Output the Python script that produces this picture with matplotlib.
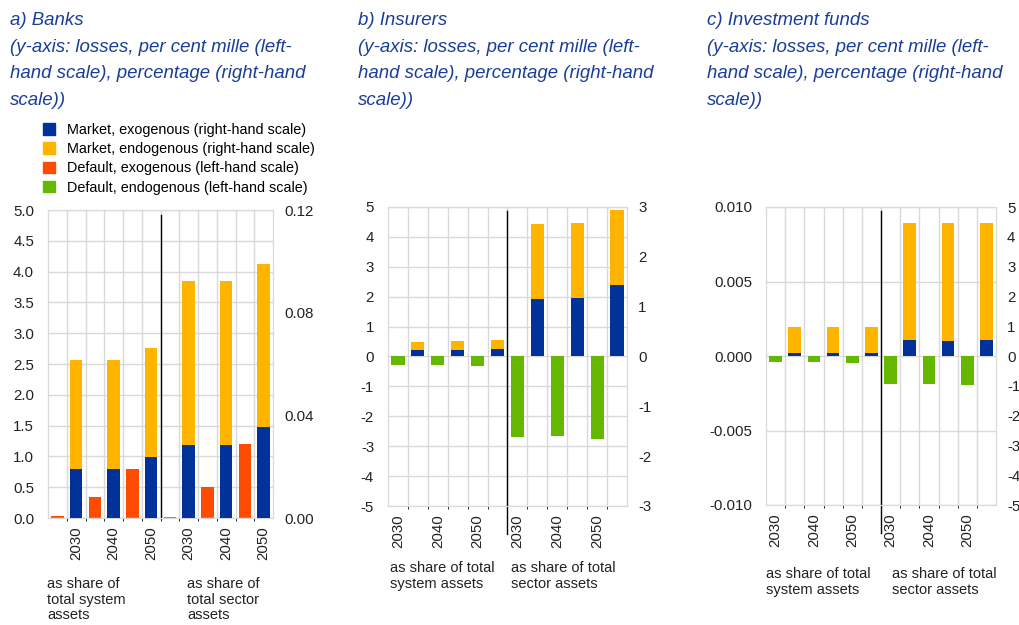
import numpy as np
import matplotlib
matplotlib.use("Agg")
import matplotlib.pyplot as plt
from matplotlib.patches import Patch
import matplotlib.transforms as mtransforms

plt.rcParams["font.family"] = ["Liberation Sans", "DejaVu Sans"]
plt.rcParams["axes.unicode_minus"] = False

# -------------------------
# Data
# -------------------------
years = ["2030", "2040", "2050", "2030", "2040", "2050"]

# market losses (right-hand scale, percentage)
banks_mkt_exo = [0.0192, 0.0192, 0.0237, 0.0286, 0.0285, 0.0355]
banks_mkt_endo = [0.0425, 0.0423, 0.0425, 0.0638, 0.0637, 0.0634]
# default losses (left-hand scale, per cent mille)
banks_def_exo = [0.02, 0.33, 0.78, 0.01, 0.50, 1.19]
banks_def_endo = [0.01, 0.01, 0.01, 0.01, 0.01, 0.01]

insurers_mkt_exo = [0.134, 0.134, 0.154, 1.152, 1.172, 1.44]
insurers_mkt_endo = [0.166, 0.181, 0.181, 1.50, 1.508, 1.50]
insurers_def_exo = [0, 0, 0, 0, 0, 0]
insurers_def_endo = [-0.30, -0.30, -0.33, -2.68, -2.66, -2.77]

funds_mkt_exo = [0.112, 0.112, 0.112, 0.549, 0.515, 0.526]
funds_mkt_endo = [0.851, 0.851, 0.851, 3.921, 3.935, 3.924]
funds_def_exo = [0, 0, 0, 0, 0, 0]
funds_def_endo = [-0.00043, -0.00043, -0.00045, -0.00188, -0.0019, -0.00197]

BLUE = "#003299"
YELLOW = "#FFB400"
ORANGE = "#FF4B00"
GREEN = "#65B800"
GRID = "#d9d9d9"
TITLE = "#1a3d9a"

W, H = 1019, 625
fig = plt.figure(figsize=(W / 100, H / 100), dpi=100)


def rect(x0, x1, ytop, ybot):
    return [x0 / W, 1 - ybot / H, (x1 - x0) / W, (ybot - ytop) / H]


def panel(r, mkt_exo, mkt_endo, def_exo, def_endo,
          lticks, llabels, rticks, rlabels, label_slot, line_ext):
    ax = fig.add_axes(r)
    ax2 = ax.twinx()
    ax.set_zorder(1)
    ax2.set_zorder(2)
    ax.patch.set_facecolor("white")
    ax2.patch.set_visible(False)

    x_def = np.arange(0, 12, 2)
    x_mkt = x_def + 1
    bw = 0.66

    endo = np.array(def_endo)
    ax.bar(x_def, endo, bw, color=GREEN, zorder=3)
    ax.bar(x_def, def_exo, bw, bottom=np.maximum(endo, 0), color=ORANGE, zorder=3)

    ax2.bar(x_mkt, mkt_exo, bw, color=BLUE, zorder=3)
    ax2.bar(x_mkt, mkt_endo, bw, bottom=mkt_exo, color=YELLOW, zorder=3)

    ax.set_xlim(-0.5, 11.5)
    ax.set_ylim(lticks[0], lticks[-1])
    ax2.set_ylim(rticks[0], rticks[-1])
    ax.set_yticks(lticks)
    ax.set_yticklabels(llabels)
    ax2.set_yticks(rticks)
    ax2.set_yticklabels(rlabels)

    ax.set_xticks(x_def + label_slot)
    ax.set_xticklabels(years, rotation=90)
    ax.set_xticks(np.arange(0.5, 11, 1), minor=True)

    ax.grid(True, axis="y", which="major", color=GRID, lw=1, zorder=0)
    ax.grid(True, axis="x", which="minor", color=GRID, lw=1, zorder=0)
    ax.grid(False, axis="x", which="major")

    for a in (ax, ax2):
        for s in a.spines.values():
            s.set_color(GRID)
        a.tick_params(length=0, labelsize=10.8, colors="#222222")
    ax.tick_params(axis="y", pad=10)
    ax2.tick_params(axis="y", pad=8)
    ax.tick_params(axis="x", pad=6)

    trans = mtransforms.blended_transform_factory(ax.transData, ax.transAxes)
    ax.plot([5.5, 5.5], [line_ext, 0.985], color="black", lw=1.0,
            transform=trans, clip_on=False, zorder=5)
    return ax


panel(rect(48, 273, 210, 518),
      banks_mkt_exo, banks_mkt_endo, banks_def_exo, banks_def_endo,
      np.arange(0, 5.01, 0.5), [f"{v:.1f}" for v in np.arange(0, 5.01, 0.5)],
      [0, 0.04, 0.08, 0.12], ["0.00", "0.04", "0.08", "0.12"], 1, 0.0)

panel(rect(388, 627, 207, 506),
      insurers_mkt_exo, insurers_mkt_endo, insurers_def_exo, insurers_def_endo,
      np.arange(-5, 6, 1), [str(v) for v in range(-5, 6)],
      np.arange(-3, 4, 1), [str(v) for v in range(-3, 4)], 0, -0.095)

panel(rect(766, 996, 207, 505),
      funds_mkt_exo, funds_mkt_endo, funds_def_exo, funds_def_endo,
      [-0.01, -0.005, 0, 0.005, 0.01], ["-0.010", "-0.005", "0.000", "0.005", "0.010"],
      np.arange(-5, 6, 1), [str(v) for v in range(-5, 6)], 0, -0.095)

# -------------------------
# Titles
# -------------------------
sub = "\n(y-axis: losses, per cent mille (left-\nhand scale), percentage (right-hand\nscale))"
for x, name in [(10, "a) Banks"), (358, "b) Insurers"), (707, "c) Investment funds")]:
    fig.text(x / W, 1 - 12 / H, name + sub, ha="left", va="top", fontsize=13.4,
             style="italic", color=TITLE, linespacing=1.75)

# -------------------------
# Legend
# -------------------------
handles = [Patch(color=BLUE), Patch(color=YELLOW), Patch(color=ORANGE), Patch(color=GREEN)]
labels = ["Market, exogenous (right-hand scale)",
          "Market, endogenous (right-hand scale)",
          "Default, exogenous (left-hand scale)",
          "Default, endogenous (left-hand scale)"]
fig.legend(handles, labels, loc="upper left", bbox_to_anchor=(43 / W, 1 - 123 / H),
           frameon=False, fontsize=10.4, handlelength=0.85, handleheight=0.85,
           handletextpad=0.8, labelspacing=0.36, borderpad=0, borderaxespad=0)

# -------------------------
# Group annotations
# -------------------------
notes = [
    (47, 577, "as share of\ntotal system\nassets"),
    (187, 577, "as share of\ntotal sector\nassets"),
    (390, 561, "as share of total\nsystem assets"),
    (511, 561, "as share of total\nsector assets"),
    (766, 567, "as share of total\nsystem assets"),
    (892, 567, "as share of total\nsector assets"),
]
for x, y, t in notes:
    fig.text(x / W, 1 - y / H, t, ha="left", va="top", fontsize=10.5,
             color="#222222", linespacing=1.15)

fig.savefig("out.png", dpi=100)
